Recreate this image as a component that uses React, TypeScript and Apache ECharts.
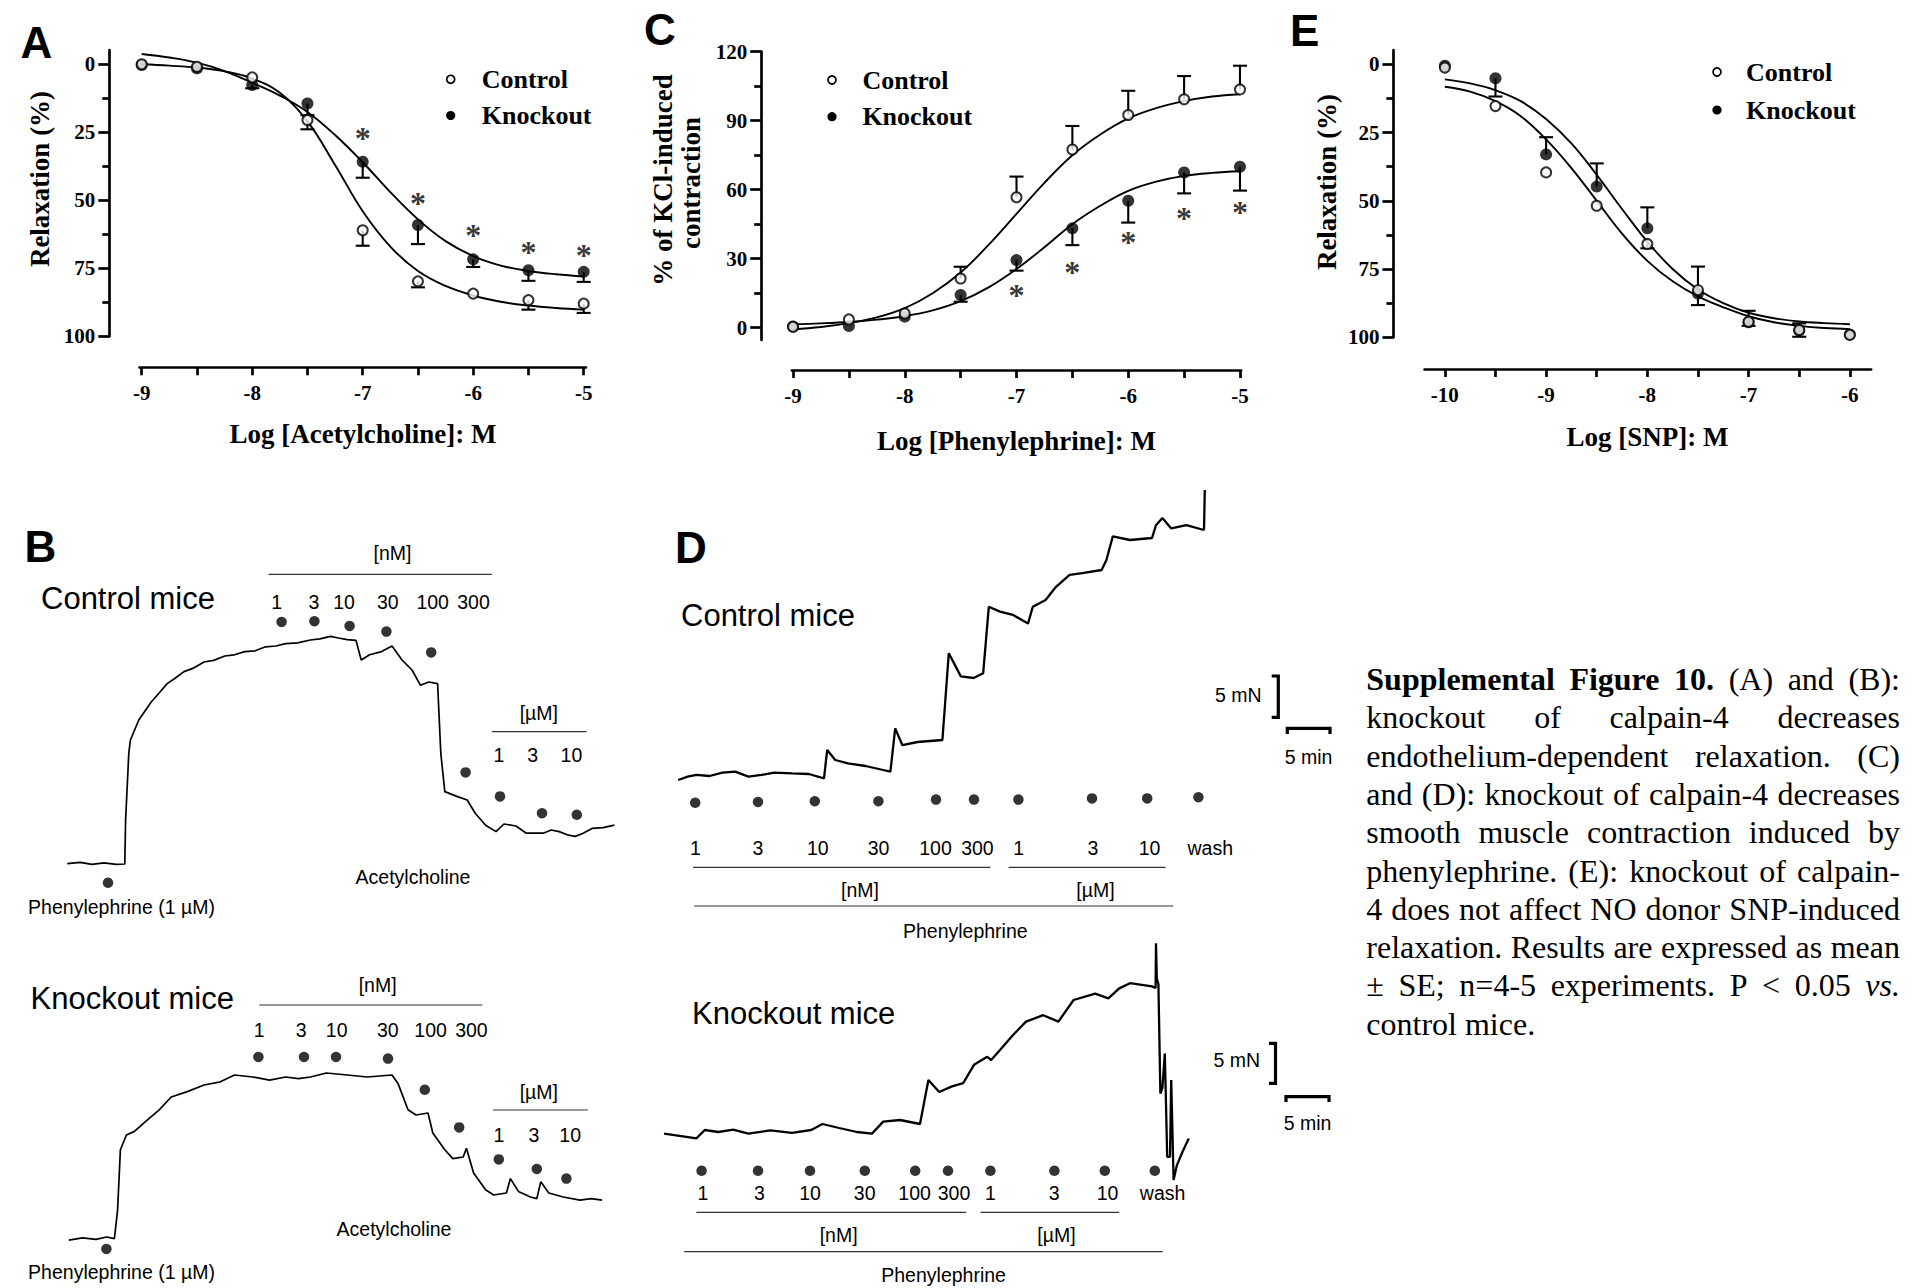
import React, { useEffect, useRef } from "react";
import * as echarts from "echarts";

const SERIF = "'Liberation Serif','Times New Roman',Times,serif";
const SANS = "'Liberation Sans',Arial,Helvetica,sans-serif";

// ---------------- Panel A : acetylcholine ----------------
const achDoses = [-9, -8.5, -8, -7.5, -7, -6.5, -6, -5.5, -5];
const achControl = [0, 0.9, 4.8, 20.5, 61, 79.8, 84.3, 86.7, 88];
const achKnockout = [0.3, 1.5, 7.6, 14.4, 35.8, 59.1, 71.7, 75.7, 76.3];
const achControlErrEnd = [null, null, null, 23.9, 66.7, 82, null, 90.2, 91.4];
const achKnockoutErrEnd = [null, null, 8.8, 18.7, 41.7, 66.1, 74.5, 79.6, 80];
const achStarAt = [null, null, null, null, 25.4, 49.3, 61, 67.1, 68.3];
const achFitDoses = [-9, -8.75, -8.5, -8.25, -8, -7.75, -7.5, -7.25, -7, -6.75, -6.5, -6.25, -6, -5.75, -5.5, -5.25, -5];
const achFitControl = [0, 0.5, 1.2, 2.6, 5.2, 10.5, 21, 37, 54, 67, 76, 81.5, 85, 87.3, 88.7, 89.6, 90.2];
const achFitKnockout = [-3.8, -2.5, -0.6, 2.5, 6.8, 11.5, 17.5, 26, 36, 47, 57, 65, 70.5, 74, 76, 77.2, 78];

// ---------------- Panel C : phenylephrine ----------------
const peDoses = [-9, -8.5, -8, -7.5, -7, -6.5, -6, -5.5, -5];
const peControl = [0.4, 3.6, 6.2, 21.4, 56.7, 77.5, 92.5, 99.3, 103.6];
const peKnockout = [0.5, 0.7, 4.8, 14.2, 29.4, 43.2, 55.2, 67.5, 70];
const peControlErrEnd = [null, null, null, 26.5, 65.7, 87.7, 103, 109.4, 113.9];
const peKnockoutErrEnd = [null, null, null, 11.3, 24.8, 35.9, 45.7, 58.4, 59.6];
const peStarAt = [null, null, null, null, 16.4, 26.5, 39.3, 49.7, 52.6];
const peFitDoses = [-9, -8.75, -8.5, -8.25, -8, -7.75, -7.5, -7.25, -7, -6.75, -6.5, -6.25, -6, -5.75, -5.5, -5.25, -5];
const peFitControl = [-0.7, 0.3, 2, 4.5, 8.5, 15, 24, 36, 49.5, 63, 75, 84, 91, 95.5, 98.5, 100.5, 101.5];
const peFitKnockout = [1.5, 1.9, 2.5, 3.5, 5, 7.5, 11.5, 17.5, 25.5, 35, 45, 53, 59.5, 63.5, 66, 67.3, 68];

// ---------------- Panel E : SNP ----------------
const snpDoses = [-10, -9.5, -9, -8.5, -8, -7.5, -7, -6.5, -6];
const snpControl = [1.2, 15.3, 39.6, 51.8, 65.8, 82.7, 94.3, 97.3, 99.1];
const snpKnockout = [0.5, 5.1, 33, 44.8, 60.1, 84, 94.5, 97.5, 99];
const snpControlErrEnd = [null, null, null, null, 67.4, 74.1, 90.3, 99.8, null];
const snpKnockoutErrEnd = [null, 11.8, 26.7, 36.3, 52.4, 88.2, 95.8, 94.9, null];
const snpFitDoses = [-10, -9.75, -9.5, -9.25, -9, -8.75, -8.5, -8.25, -8, -7.75, -7.5, -7.25, -7, -6.75, -6.5, -6.25, -6];
const snpFitControl = [8.2, 10, 13.5, 19, 27.5, 38, 50, 62, 72, 79.5, 85, 89, 92.3, 94.5, 95.8, 96.6, 97];
const snpFitKnockout = [5.5, 7, 9.5, 13.5, 20, 29, 40.5, 53, 65, 75, 82.5, 87.5, 91, 93, 94.2, 94.8, 95.2];

// ---------------- Panel B : isometric tension traces (min, mN) ----------------
const bControlTrace = [
  [0.9, 0.8], [2.5, 0.95], [4.0, 0.7], [5.5, 0.9], [7.0, 0.7], [8.1, 0.75], [8.2, 6.25], [8.6, 14.6], [8.8, 16.25],
  [9.85, 18.75], [11.4, 21.0], [12.2, 21.9], [13.4, 23.3], [14.3, 23.9], [15.5, 24.8], [16.6, 25.2], [18.0, 26.0],
  [19.2, 26.2], [20.6, 26.75], [21.8, 26.9], [23.1, 27.3], [24.4, 27.4], [25.7, 27.9], [27.0, 28.0], [28.2, 28.3],
  [29.7, 28.4], [31.3, 28.75], [32.5, 28.9], [33.8, 29.2], [34.8, 29.0], [35.9, 28.8], [37.0, 28.7], [37.65, 26.25],
  [38.7, 26.9], [40.2, 27.3], [41.5, 28.0], [42.75, 26.25], [44.0, 25.0], [45.05, 23.1], [46.1, 23.5], [47.2, 23.3],
  [47.6, 14.6], [48.1, 9.8], [49.6, 9.2], [50.9, 8.75], [51.9, 7.1], [53.2, 5.6], [54.5, 4.8], [55.5, 5.75],
  [57.0, 5.5], [58.3, 4.6], [60.4, 4.6], [61.4, 5.0], [62.4, 4.8], [63.4, 4.4], [64.4, 4.2], [65.4, 4.6],
  [66.5, 5.2], [67.9, 5.3], [69.3, 5.6],
];
const bControlDoseMarks = [[27.7, 31.0], [31.8, 31.1], [36.2, 30.5], [40.8, 29.8], [46.4, 27.2], [50.7, 12.2], [55.0, 9.2], [60.25, 7.1], [64.6, 6.9]];
const bControlPEMark = [[6.0, -1.6]];
const bKnockoutTrace = [
  [1.1, 0.6], [2.8, 0.9], [4.5, 0.7], [5.8, 1.0], [6.8, 0.8], [7.2, 4.4], [7.55, 11.9], [8.3, 13.75], [9.3, 14.2],
  [10.9, 15.6], [12.4, 16.9], [13.9, 18.5], [16.0, 19.2], [18.0, 20.0], [20.05, 20.4], [21.8, 21.25], [24.1, 21.0],
  [26.2, 20.6], [28.2, 21.0], [29.8, 20.8], [31.3, 21.0], [33.3, 21.5], [35.9, 21.25], [38.4, 21.0], [41.5, 21.25],
  [42.25, 20.2], [43.5, 16.9], [44.5, 16.25], [46.0, 16.5], [46.6, 14.0], [48.1, 11.9], [49.1, 10.8], [50.4, 11.0],
  [50.8, 12.1], [51.7, 9.0], [53.2, 6.9], [54.2, 6.25], [55.8, 6.5], [56.3, 8.3], [57.3, 6.7], [58.8, 6.0],
  [59.6, 5.8], [60.1, 7.9], [61.1, 6.5], [62.9, 6.0], [65.0, 5.6], [66.4, 5.8], [67.75, 5.6],
];
const bKnockoutDoseMarks = [[24.8, 23.5], [30.5, 23.5], [34.5, 23.5], [41.0, 23.3], [45.6, 19.4], [49.9, 14.7], [54.85, 10.7], [59.6, 9.5], [63.3, 8.3]];
const bKnockoutPEMark = [[5.8, -0.5]];
const achNmLabels = ["1", "3", "10", "30", "100", "300"];
const achUmLabels = ["1", "3", "10"];

// ---------------- Panel D : phenylephrine traces (min, mN) ----------------
const dControlTrace = [
  [0.27, 1.25], [1.46, 1.67], [2.55, 1.88], [4.2, 1.75], [5.8, 2.17], [7.4, 2.3], [9.05, 1.67], [10.7, 1.88],
  [12.3, 2.17], [14.5, 2.08], [16.6, 2.0], [18.5, 1.46], [18.9, 5.0], [19.9, 3.75], [21.5, 3.33], [23.7, 3.0],
  [25.9, 2.5], [26.8, 2.29], [27.4, 7.7], [28.3, 5.6], [30.2, 6.0], [33.3, 6.25], [34.1, 17.1], [35.6, 14.2],
  [37.2, 14.0], [38.4, 14.6], [39.1, 22.9], [40.5, 22.3], [42.1, 21.9], [44.0, 20.8], [44.6, 22.9], [46.2, 23.75],
  [47.5, 25.4], [49.2, 26.9], [50.8, 27.1], [53.2, 27.5], [53.8, 28.75], [54.6, 31.7], [56.75, 31.25], [59.5, 31.5],
  [60.0, 33.1], [60.8, 34.0], [61.9, 32.7], [63.8, 33.1], [66.0, 32.5], [66.1, 37.5],
];
const dControlDoseMarks = [[2.4, -1.6], [10.25, -1.5], [17.35, -1.4], [25.3, -1.4], [32.5, -1.2], [37.25, -1.2], [42.8, -1.2], [52.0, -1.05], [58.9, -1.05], [65.3, -0.9]];
const dKnockoutTrace = [
  [0.5, 0.8], [1.8, 0.6], [4.55, 0.2], [5.6, 1.25], [7.3, 1.0], [9.15, 1.3], [11.05, 0.8], [13.8, 1.2],
  [16.5, 0.9], [18.9, 1.25], [20.3, 2.0], [22.4, 1.5], [24.6, 1.0], [26.5, 0.8], [27.9, 2.3], [30.0, 2.5],
  [32.5, 2.0], [33.55, 7.5], [34.9, 6.0], [36.5, 6.7], [37.9, 7.1], [39.25, 9.4], [40.9, 10.4], [41.4, 10.0],
  [42.5, 11.25], [44.1, 13.1], [45.75, 14.8], [47.9, 15.6], [49.8, 14.8], [51.7, 17.5], [54.4, 18.3], [56.05, 17.7],
  [57.4, 18.95], [58.75, 19.6], [61.5, 19.2], [61.95, 19.0], [62.0, 24.6], [62.1, 20.2], [62.3, 19.5], [62.55, 5.8],
  [62.8, 6.5], [63.1, 10.8], [63.2, 6.7], [63.4, -2.1], [63.75, -2.1], [63.9, 7.5], [64.2, -5.0], [64.6, -3.2],
  [65.3, -1.5], [66.1, 0.2],
];
const dKnockoutDoseMarks = [[5.2, -3.85], [12.25, -3.85], [18.75, -3.85], [25.6, -3.85], [31.9, -3.85], [36.0, -3.85], [41.3, -3.85], [49.3, -3.85], [55.6, -3.85], [61.85, -3.85]];
const peStepLabels = ["1", "3", "10", "30", "100", "300", "1", "3", "10", "wash"];

// ---------------- Caption ----------------
const captionLines = [
  "Supplemental Figure 10. (A) and (B):",
  "knockout of calpain-4 decreases",
  "endothelium-dependent relaxation. (C)",
  "and (D): knockout of calpain-4 decreases",
  "smooth muscle contraction induced by",
  "phenylephrine. (E): knockout of calpain-",
  "4 does not affect NO donor SNP-induced",
  "relaxation. Results are expressed as mean",
  "± SE; n=4-5 experiments. P < 0.05 vs.",
  "control mice.",
];
const captionBoldWords = 3;

// ================= helpers =================
const pairs = (xs: number[], ys: (number | null)[]) =>
  xs.map((x, i) => (ys[i] == null ? null : [x, ys[i]])).filter(Boolean);

const txt = (x: number, y: number, text: string, font: string, align = "left", rotation = 0) => ({
  type: "text",
  x,
  y,
  rotation,
  silent: true,
  style: {
    text,
    font,
    fill: "#000",
    textAlign: align,
    textVerticalAlign: "middle",
    align,
    verticalAlign: "middle",
  },
});
const ln = (x1: number, y1: number, x2: number, y2: number, w = 1.2, c = "#333") => ({
  type: "line",
  silent: true,
  shape: { x1, y1, x2, y2 },
  style: { stroke: c, lineWidth: w },
});
const pl = (points: number[][], w = 3.2) => ({
  type: "polyline",
  silent: true,
  shape: { points },
  style: { stroke: "#000", lineWidth: w, fill: "none" },
});

function App() {
  const ref = useRef<HTMLDivElement>(null);

  useEffect(() => {
    document.body.style.margin = "0";
    if (!ref.current) return;
    const chart = echarts.init(ref.current, null, { renderer: "svg" });

    const axisLineStyle = { color: "#000", width: 2.7 };
    const tickFont = { color: "#000", fontFamily: SERIF, fontWeight: "bold", fontSize: 21 };

    const doseAxis = (gridIndex: number, min: number, max: number, offset: number, ticks: number[], labels: number[]) => ({
      gridIndex,
      type: "value",
      min,
      max,
      position: "bottom",
      offset,
      axisLine: { show: true, onZero: false, lineStyle: axisLineStyle },
      axisTick: { show: true, inside: false, length: 8, lineStyle: axisLineStyle, customValues: ticks },
      axisLabel: { ...tickFont, margin: 15, customValues: labels, formatter: (v: number) => String(v) },
      splitLine: { show: false },
    });
    const respAxis = (gridIndex: number, min: number, max: number, inverse: boolean, offset: number, major: number[], minor: number[]) => [
      {
        gridIndex,
        type: "value",
        min,
        max,
        inverse,
        position: "left",
        offset,
        axisLine: { show: true, onZero: false, lineStyle: axisLineStyle },
        axisTick: { show: true, inside: false, length: 11, lineStyle: axisLineStyle, customValues: major },
        axisLabel: { ...tickFont, margin: 14, customValues: major },
        splitLine: { show: false },
      },
      {
        gridIndex,
        type: "value",
        min,
        max,
        inverse,
        position: "left",
        offset,
        axisLine: { show: false },
        axisTick: { show: true, inside: false, length: 7, lineStyle: axisLineStyle, customValues: minor },
        axisLabel: { show: false },
        splitLine: { show: false },
      },
    ];
    const hiddenX = (gridIndex: number) => ({ gridIndex, type: "value", min: 0, max: 72, show: false });
    const hiddenY = (gridIndex: number, min: number, max: number) => ({ gridIndex, type: "value", min, max, show: false });

    const fit = (xi: number, yi: number, xs: number[], ys: number[]) => ({
      type: "line",
      xAxisIndex: xi,
      yAxisIndex: yi,
      data: pairs(xs, ys),
      smooth: 0.4,
      showSymbol: false,
      symbol: "none",
      silent: true,
      lineStyle: { color: "#000", width: 1.9 },
      z: 2,
    });
    const errBars = (xi: number, yi: number, xs: number[], ys: number[], ends: (number | null)[]) => ({
      type: "custom",
      xAxisIndex: xi,
      yAxisIndex: yi,
      silent: true,
      data: xs.map((x, i) => (ends[i] == null ? null : [x, ys[i], ends[i]])).filter(Boolean),
      encode: { x: 0, y: 1 },
      renderItem: (_p: any, api: any) => {
        const p0 = api.coord([api.value(0), api.value(1)]);
        const p1 = api.coord([api.value(0), api.value(2)]);
        const hw = 7;
        const st = { stroke: "#000", lineWidth: 2.1 };
        return {
          type: "group",
          children: [
            { type: "line", shape: { x1: p0[0], y1: p0[1], x2: p1[0], y2: p1[1] }, style: st },
            { type: "line", shape: { x1: p1[0] - hw, y1: p1[1], x2: p1[0] + hw, y2: p1[1] }, style: st },
          ],
        };
      },
      z: 3,
    });
    const markers = (xi: number, yi: number, xs: number[], ys: number[], open: boolean, name: string) => ({
      name,
      type: "scatter",
      xAxisIndex: xi,
      yAxisIndex: yi,
      data: pairs(xs, ys),
      symbol: "circle",
      symbolSize: open ? 10 : 12,
      itemStyle: open ? { color: "#fff", borderColor: "#000", borderWidth: 2 } : { color: "#000" },
      z: open ? 5 : 4,
    });
    const stars = (xi: number, yi: number, xs: number[], at: (number | null)[]) => ({
      type: "scatter",
      xAxisIndex: xi,
      yAxisIndex: yi,
      silent: true,
      data: pairs(xs, at),
      symbol: "circle",
      symbolSize: 1,
      itemStyle: { color: "rgba(0,0,0,0)" },
      label: {
        show: true,
        position: "inside",
        formatter: "*",
        color: "#000",
        fontFamily: SERIF,
        fontWeight: "bold",
        fontSize: 32,
        offset: [0, 5],
      },
      z: 6,
    });
    const trace = (xi: number, yi: number, data: number[][], w: number) => ({
      type: "line",
      xAxisIndex: xi,
      yAxisIndex: yi,
      data,
      showSymbol: false,
      symbol: "none",
      silent: true,
      lineStyle: { color: "#000", width: w },
      z: 2,
    });
    const dots = (xi: number, yi: number, data: number[][]) => ({
      type: "scatter",
      xAxisIndex: xi,
      yAxisIndex: yi,
      data,
      symbol: "circle",
      symbolSize: 10.5,
      silent: true,
      itemStyle: { color: "#000" },
      z: 3,
    });

    // ---------- graphic annotations ----------
    const g: any[] = [];
    const letter = "bold 44px " + SANS;
    g.push(txt(20.5, 42.5, "A", letter));
    g.push(txt(644, 29, "C", letter));
    g.push(txt(1290, 30, "E", letter));
    g.push(txt(24.5, 546, "B", letter));
    g.push(txt(675, 547, "D", letter));

    const titleFont = "bold 27px " + SERIF;
    g.push(txt(363, 434, "Log [Acetylcholine]: M", titleFont, "center"));
    g.push(txt(1016.5, 441, "Log [Phenylephrine]: M", titleFont, "center"));
    g.push(txt(1647.5, 437, "Log [SNP]: M", titleFont, "center"));
    const yTitleFont = "bold 27px " + SERIF;
    g.push(txt(40, 179, "Relaxation (%)", yTitleFont, "center", Math.PI / 2));
    g.push(txt(663, 180, "% of KCl-induced", yTitleFont, "center", Math.PI / 2));
    g.push(txt(691, 183, "contraction", yTitleFont, "center", Math.PI / 2));
    g.push(txt(1327, 182, "Relaxation (%)", yTitleFont, "center", Math.PI / 2));

    // legends
    const legFont = "bold 26px " + SERIF;
    const legend = (cx: number, cy1: number, cy2: number, tx: number) => {
      g.push({ type: "circle", silent: true, shape: { cx, cy: cy1, r: 4 }, style: { fill: "#fff", stroke: "#000", lineWidth: 1.7 } });
      g.push({ type: "circle", silent: true, shape: { cx, cy: cy2, r: 4.6 }, style: { fill: "#000" } });
      g.push(txt(tx, cy1, "Control", legFont));
      g.push(txt(tx, cy2, "Knockout", legFont));
    };
    legend(450.7, 79.3, 115.5, 481.7);
    legend(832, 80, 116.7, 862.4);
    legend(1717, 72, 110, 1746);

    // ---------- B annotations ----------
    const mice = "31px " + SANS;
    const small = "19.5px " + SANS;
    g.push(txt(41, 598, "Control mice", mice));
    g.push(txt(392.5, 553, "[nM]", small, "center"));
    g.push(ln(268.6, 574.3, 491.8, 574.3));
    [276.7, 314, 344, 387.8, 432.7, 473.5].forEach((x, i) => g.push(txt(x, 601.7, achNmLabels[i], small, "center")));
    g.push(txt(538.8, 713.3, "[µM]", small, "center"));
    g.push(ln(491.8, 731.7, 586.5, 731.7));
    [498.8, 532.7, 571.4].forEach((x, i) => g.push(txt(x, 755, achUmLabels[i], small, "center")));
    g.push(txt(413, 877, "Acetylcholine", small, "center"));
    g.push(txt(121.5, 907, "Phenylephrine (1 µM)", small, "center"));

    g.push(txt(30.6, 998.3, "Knockout mice", mice));
    g.push(txt(377.6, 985, "[nM]", small, "center"));
    g.push(ln(259.2, 1005, 482.4, 1005));
    [259.2, 301.2, 336.7, 387.8, 430.6, 471.4].forEach((x, i) => g.push(txt(x, 1030, achNmLabels[i], small, "center")));
    g.push(txt(538.8, 1091.7, "[µM]", small, "center"));
    g.push(ln(493, 1110, 587.8, 1110));
    [498.8, 533.9, 570.2].forEach((x, i) => g.push(txt(x, 1135, achUmLabels[i], small, "center")));
    g.push(txt(394, 1229, "Acetylcholine", small, "center"));
    g.push(txt(121.5, 1271.5, "Phenylephrine (1 µM)", small, "center"));

    // ---------- D annotations ----------
    g.push(txt(681, 615, "Control mice", mice));
    [695.5, 758, 817.8, 878.5, 935.5, 977.4, 1018.6, 1093, 1149.6, 1210.3].forEach((x, i) =>
      g.push(txt(x, 848.3, peStepLabels[i], small, "center"))
    );
    g.push(ln(693, 867.3, 990.4, 867.3));
    g.push(ln(1008.6, 867.3, 1165.6, 867.3));
    g.push(txt(860, 890, "[nM]", small, "center"));
    g.push(txt(1095.4, 890, "[µM]", small, "center"));
    g.push(ln(694.2, 906, 1173.4, 906));
    g.push(txt(965.3, 930.5, "Phenylephrine", small, "center"));
    g.push(txt(1261.7, 695, "5 mN", small, "right"));
    g.push(pl([[1271.7, 676], [1278.3, 676], [1278.3, 717.3], [1271.7, 717.3]]));
    g.push(pl([[1287.3, 734], [1287.3, 728.3], [1330, 728.3], [1330, 734]]));
    g.push(txt(1308.6, 756.7, "5 min", small, "center"));

    g.push(txt(692, 1013.3, "Knockout mice", mice));
    [702.9, 759.3, 810, 864.7, 914.6, 954, 990.4, 1054.2, 1107.5, 1162.6].forEach((x, i) =>
      g.push(txt(x, 1193.3, peStepLabels[i], small, "center"))
    );
    g.push(ln(696.4, 1212.3, 966.1, 1212.3));
    g.push(ln(980.5, 1212.3, 1119.2, 1212.3));
    g.push(txt(838.6, 1235, "[nM]", small, "center"));
    g.push(txt(1056.4, 1235, "[µM]", small, "center"));
    g.push(ln(684.2, 1251.7, 1162.6, 1251.7));
    g.push(txt(943.6, 1275, "Phenylephrine", small, "center"));
    g.push(txt(1260, 1060, "5 mN", small, "right"));
    g.push(pl([[1269, 1043.3], [1275.5, 1043.3], [1275.5, 1083.3], [1269, 1083.3]]));
    g.push(pl([[1286, 1102], [1286, 1096.7], [1329, 1096.7], [1329, 1102]]));
    g.push(txt(1307.5, 1123, "5 min", small, "center"));

    // ---------- caption (justified) ----------
    const ctx = document.createElement("canvas").getContext("2d") as CanvasRenderingContext2D;
    const capSize = 32;
    const fontOf = (bold: boolean, italic: boolean) =>
      (italic ? "italic " : "") + (bold ? "bold " : "") + capSize + "px " + SERIF;
    const capLeft = 1366.3;
    const capRight = 1900;
    captionLines.forEach((line, li) => {
      const y = 679 + li * 38.3;
      const words = line.split(" ").map((w, wi) => ({
        t: w,
        bold: li === 0 && wi < captionBoldWords,
        italic: li === 8 && w === "vs.",
      }));
      const widths = words.map((w) => {
        ctx.font = fontOf(w.bold, w.italic);
        return ctx.measureText(w.t).width;
      });
      const total = widths.reduce((a, b) => a + b, 0);
      const last = li === captionLines.length - 1;
      ctx.font = fontOf(false, false);
      const space = ctx.measureText(" ").width;
      const gap = last || words.length < 2 ? space : (capRight - capLeft - total) / (words.length - 1);
      let x = capLeft;
      words.forEach((w, wi) => {
        g.push(txt(x, y, w.t, fontOf(w.bold, w.italic)));
        x += widths[wi] + gap;
      });
    });

    const option: any = {
      animation: false,
      backgroundColor: "#fff",
      grid: [
        { left: 139.5, top: 50, width: 446.4, height: 286.3, outerBoundsMode: "none", containLabel: false },
        { left: 791.9, top: 51.7, width: 449.2, height: 288.3, outerBoundsMode: "none", containLabel: false },
        { left: 1424.6, top: 50, width: 446.5, height: 287.3, outerBoundsMode: "none", containLabel: false },
        { left: 60, top: 550, width: 576, height: 360, outerBoundsMode: "none", containLabel: false },
        { left: 60, top: 965, width: 576, height: 320, outerBoundsMode: "none", containLabel: false },
        { left: 676, top: 470, width: 576, height: 360, outerBoundsMode: "none", containLabel: false },
        { left: 660, top: 900, width: 576, height: 288, outerBoundsMode: "none", containLabel: false },
      ],
      xAxis: [
        doseAxis(0, -9.02, -4.98, 31, [-9, -8.5, -8, -7.5, -7, -6.5, -6, -5.5, -5], [-9, -8, -7, -6, -5]),
        doseAxis(1, -9.01, -4.99, 30, [-9, -8.5, -8, -7.5, -7, -6.5, -6, -5.5, -5], [-9, -8, -7, -6, -5]),
        doseAxis(2, -10.2, -5.79, 31.7, [-10, -9.5, -9, -8.5, -8, -7.5, -7, -6.5, -6], [-10, -9, -8, -7, -6]),
        hiddenX(3),
        hiddenX(4),
        hiddenX(5),
        hiddenX(6),
      ],
      yAxis: [
        ...respAxis(0, -5.26, 100, true, 30.2, [0, 25, 50, 75, 100], [12.5, 37.5, 62.5, 87.5]),
        ...respAxis(1, -5.35, 120, false, 30.7, [0, 30, 60, 90, 120], [15, 45, 75, 105]),
        ...respAxis(2, -5.24, 100, true, 31.2, [0, 25, 50, 75, 100], [12.5, 37.5, 62.5, 87.5]),
        hiddenY(3, -5, 40),
        hiddenY(4, -5, 35),
        hiddenY(5, -5, 40),
        hiddenY(6, -6, 30),
      ],
      series: [
        // A
        fit(0, 0, achFitDoses, achFitKnockout),
        fit(0, 0, achFitDoses, achFitControl),
        errBars(0, 0, achDoses, achKnockout, achKnockoutErrEnd),
        errBars(0, 0, achDoses, achControl, achControlErrEnd),
        markers(0, 0, achDoses, achKnockout, false, "Knockout"),
        markers(0, 0, achDoses, achControl, true, "Control"),
        stars(0, 0, achDoses, achStarAt),
        // C
        fit(1, 2, peFitDoses, peFitKnockout),
        fit(1, 2, peFitDoses, peFitControl),
        errBars(1, 2, peDoses, peKnockout, peKnockoutErrEnd),
        errBars(1, 2, peDoses, peControl, peControlErrEnd),
        markers(1, 2, peDoses, peKnockout, false, "Knockout"),
        markers(1, 2, peDoses, peControl, true, "Control"),
        stars(1, 2, peDoses, peStarAt),
        // E
        fit(2, 4, snpFitDoses, snpFitKnockout),
        fit(2, 4, snpFitDoses, snpFitControl),
        errBars(2, 4, snpDoses, snpKnockout, snpKnockoutErrEnd),
        errBars(2, 4, snpDoses, snpControl, snpControlErrEnd),
        markers(2, 4, snpDoses, snpKnockout, false, "Knockout"),
        markers(2, 4, snpDoses, snpControl, true, "Control"),
        // B traces
        trace(3, 6, bControlTrace, 1.7),
        dots(3, 6, bControlDoseMarks),
        dots(3, 6, bControlPEMark),
        trace(4, 7, bKnockoutTrace, 1.7),
        dots(4, 7, bKnockoutDoseMarks),
        dots(4, 7, bKnockoutPEMark),
        // D traces
        trace(5, 8, dControlTrace, 2.3),
        dots(5, 8, dControlDoseMarks),
        trace(6, 9, dKnockoutTrace, 2.3),
        dots(6, 9, dKnockoutDoseMarks),
      ],
      graphic: g,
    };
    chart.setOption(option);
    return () => chart.dispose();
  }, []);

  return <div ref={ref} style={{ width: 1915, height: 1288, background: "#fff" }} />;
}

export default App;
